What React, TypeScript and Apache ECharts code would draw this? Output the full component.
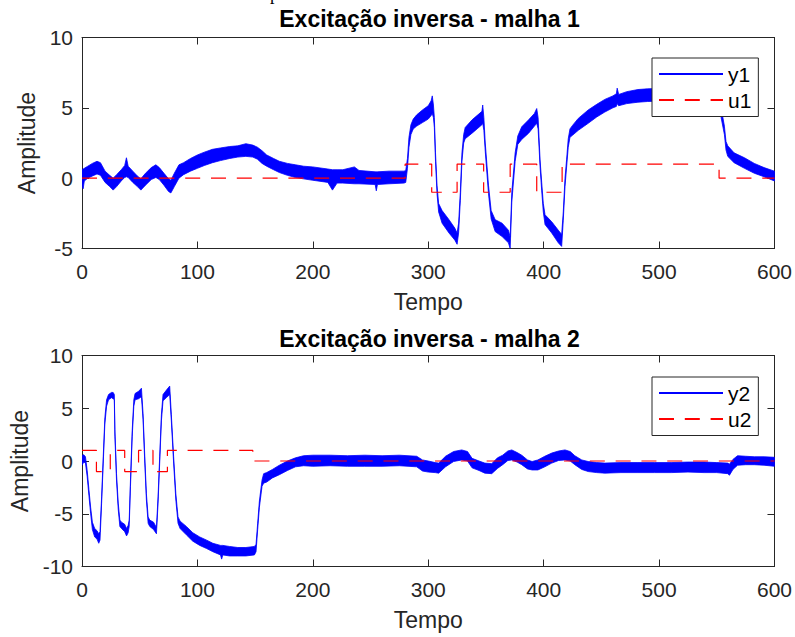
import React, { useEffect, useRef } from 'react';
import * as echarts from 'echarts';

// ---------- data ----------
const titles = ['Excitação inversa - malha 1', 'Excitação inversa - malha 2'];
const xName = 'Tempo';
const yName = 'Amplitude';
const xMin = 0;
const xMax = 600;
const xStep = 100;
const yMins = [-5, -10];
const yMaxs = [10, 10];
const yStep = 5;

// noisy output y1: [time, lower edge of noise band, upper edge of noise band]
const y1Band: number[][] = [
  [0, -0.5, 0.6], [1, -0.75, 0.65], [2, -0.2, 0.7], [5, 0.0, 0.85], [9, 0.15, 1.05], [13, 0.3, 1.2],
  [16, 0.2, 1.1], [20, -0.3, 0.5], [24, -0.6, 0.2], [27, -0.85, 0.0], [30, -0.6, 0.25], [34, -0.2, 0.6],
  [37, 0.05, 0.9], [38.5, 0.1, 1.45], [40, 0.05, 0.85], [44, -0.3, 0.5], [48, -0.6, 0.15], [51, -0.85, -0.05],
  [55, -0.5, 0.35], [60, -0.1, 0.75], [64, 0.05, 0.95], [67, -0.1, 0.75], [71, -0.5, 0.35], [75, -0.95, -0.05],
  [77, -1.05, -0.15], [80, -0.6, 0.35], [84, 0.0, 0.95], [88, 0.25, 1.1], [94, 0.5, 1.4], [100, 0.7, 1.65],
  [106, 0.9, 1.85], [113, 1.1, 2.05], [120, 1.25, 2.15], [128, 1.4, 2.25], [135, 1.5, 2.3], [142, 1.55, 2.45],
  [148, 1.5, 2.35], [152, 1.35, 2.2], [156, 1.05, 1.95], [160, 0.85, 1.65], [166, 0.6, 1.4], [171, 0.4, 1.2],
  [178, 0.2, 1.05], [185, 0.05, 0.95], [192, -0.05, 0.85], [200, -0.15, 0.8], [213, -0.3, 0.65], [217, -0.85, 0.6],
  [221, -0.35, 0.6], [226, -0.35, 0.6], [236, -0.4, 0.8], [240, -0.4, 0.55], [254, -0.45, 0.45], [255, -0.9, 0.45],
  [256, -0.45, 0.45], [266, -0.4, 0.5], [279, -0.35, 0.5], [280.5, -0.3, 0.55], [282, 0.7, 1.4], [283.3, 2.2, 2.9],
  [285, 3.1, 3.8], [287, 3.5, 4.2], [290, 3.7, 4.5], [295, 3.95, 4.85], [300, 4.2, 5.15], [302.5, 4.45, 5.5],
  [303.5, 4.6, 5.85], [304.5, 4.3, 5.2], [305.3, 3.6, 4.3], [306.3, 1.2, 1.8], [307.6, -1.1, -0.5], [309, -2.4, -1.8],
  [312, -3.2, -2.3], [318, -3.9, -2.95], [323, -4.4, -3.55], [325, -4.7, -3.9], [326.3, -3.9, -3.2], [327.8, -1.6, -1.0],
  [329.2, 1.2, 1.8], [330.7, 2.5, 3.1], [332, 2.8, 3.6], [338, 3.2, 4.15], [343, 3.55, 4.5], [346.5, 3.8, 4.75],
  [347.2, 3.9, 5.2], [348.2, 3.4, 4.3], [349.4, 1.9, 2.5], [352.2, -1.1, -0.5], [354.5, -2.9, -2.3], [358, -3.8, -2.95],
  [364, -4.15, -3.2], [369.5, -4.6, -3.7], [371, -5.0, -4.2], [372.4, -1.7, -1.0], [375.3, 1.2, 1.8], [377.6, 2.4, 3.0],
  [381, 2.75, 3.65], [387, 3.2, 4.15], [392, 3.7, 4.6], [394, 3.9, 4.95], [395.2, 3.5, 4.3], [396.9, 0.8, 1.3],
  [398.3, -0.9, -0.3], [399.7, -2.4, -1.8], [401.2, -3.3, -2.6], [407, -3.9, -3.1], [412.7, -4.6, -3.7], [415.6, -4.85, -4.0],
  [417, -3.0, -2.4], [418.5, -0.6, 0.0], [419.9, 0.8, 1.35], [421.3, 2.2, 2.8], [422.8, 2.9, 3.5], [425, 3.05, 3.75],
  [430, 3.4, 4.25], [438.6, 3.9, 4.85], [446, 4.35, 5.25], [453, 4.7, 5.6], [460, 5.0, 5.85], [463, 5.1, 6.0],
  [463.7, 5.3, 6.4], [465, 5.15, 5.95], [472, 5.3, 6.15], [481.7, 5.4, 6.3], [490, 5.45, 6.35], [510, 5.5, 6.4],
  [530, 5.55, 6.45], [550, 5.5, 6.35], [552.5, 5.0, 5.8], [554, 4.2, 4.9], [556.6, 3.1, 3.7], [558, 2.0, 2.6],
  [559.5, 1.55, 2.3], [565, 1.1, 1.8], [574, 0.7, 1.45], [582.5, 0.35, 1.05], [591, 0.1, 0.75], [600, -0.2, 0.5],
];

// step input u1: value holds from each time to the next
const u1Times = [0, 280, 303, 325, 348, 371, 394, 416, 552, 600];
const u1Values = [0, 1, -1, 1, -1, 1, -1, 1, 0, 0];

// noisy output y2: [time, lower edge, upper edge]
const y2Band: number[][] = [
  [0, -0.4, 0.5], [1.5, -0.1, 0.6], [3, -0.2, 0.4], [4.5, -1.5, -0.9], [6, -3.3, -2.7], [7.5, -5.0, -4.4],
  [9, -6.5, -5.8], [11, -7.2, -6.4], [13, -7.4, -6.6], [14.5, -7.8, -6.9], [15.6, -7.5, -6.7], [17, -4.0, -3.4],
  [18.4, -0.2, 0.4], [19.8, 3.5, 4.1], [21.3, 5.2, 5.8], [23, 5.8, 6.3], [25.5, 6.0, 6.5], [27, 5.9, 6.5],
  [28, 5.8, 6.3], [28.5, 2.3, 3.0], [29.9, -1.8, -1.2], [31.4, -4.6, -4.0], [32.8, -6.2, -5.6], [34.2, -6.4, -5.8],
  [37, -6.7, -6.0], [38.6, -7.1, -6.4], [40, -6.8, -6.1], [40.9, -6.2, -5.6], [42, -2.4, -1.8], [43.5, 2.3, 2.9],
  [44.9, 5.2, 5.8], [46, 5.8, 6.4], [49, 5.9, 6.6], [51.5, 6.1, 6.9], [52.9, 3.9, 4.5], [54.4, -0.2, 0.4],
  [55.8, -3.7, -3.1], [57.3, -5.9, -5.3], [58.7, -6.2, -5.6], [62, -6.5, -5.8], [64.5, -6.9, -6.3], [65.9, -4.0, -3.4],
  [67.3, -0.2, 0.4], [68.8, 3.8, 4.4], [70.2, 5.7, 6.3], [73, 6.0, 6.7], [76, 6.3, 7.1], [77.4, 3.8, 4.4],
  [79.4, -0.2, 0.4], [81.3, -3.7, -3.1], [83.2, -5.9, -5.3], [85, -6.4, -5.7], [90.4, -7.0, -6.2], [96, -7.6, -6.8],
  [102, -8.0, -7.2], [108, -8.3, -7.5], [113.4, -8.6, -7.8], [120, -8.9, -8.0], [121, -9.3, -8.0], [122, -8.9, -8.0],
  [127.8, -9.0, -8.1], [135, -9.0, -8.2], [142, -9.0, -8.2], [149.4, -8.9, -8.1], [150.8, -8.6, -7.9], [152.2, -6.5, -5.9],
  [153.7, -4.4, -3.8], [156, -2.4, -1.8], [157.4, -2.1, -1.2], [160, -2.0, -1.1], [165, -1.6, -0.8], [171, -1.3, -0.4],
  [178, -0.9, 0.0], [185, -0.55, 0.3], [192, -0.45, 0.5], [200, -0.5, 0.55], [215, -0.45, 0.55], [230, -0.5, 0.5],
  [245, -0.5, 0.55], [260, -0.5, 0.5], [275, -0.45, 0.55], [290, -0.55, 0.45], [295, -0.95, 0.1], [300, -1.05, 0.0],
  [306, -1.1, -0.15], [309, -1.15, -0.2], [315, -0.55, 0.45], [322, -0.05, 0.9], [329, 0.1, 1.05], [334, 0.0, 0.9],
  [338, -0.65, 0.25], [344, -0.9, 0.0], [349, -1.15, -0.2], [355, -1.2, -0.25], [360, -0.7, 0.3], [364.5, -0.35, 0.55],
  [369, 0.05, 0.95], [372.4, 0.1, 1.05], [377, -0.1, 0.8], [381, -0.35, 0.55], [386, -0.75, 0.1], [390, -0.85, -0.05],
  [395, -0.85, 0.1], [401, -0.55, 0.45], [407, -0.2, 0.75], [413, 0.05, 0.95], [418.5, 0.1, 1.05], [423, 0.0, 0.9],
  [427, -0.35, 0.5], [433, -0.8, 0.1], [438.6, -1.0, -0.05], [446, -1.1, -0.15], [453, -1.15, -0.2], [467, -1.1, -0.15],
  [481.7, -1.1, -0.15], [496, -1.1, -0.15], [510.5, -1.1, -0.15], [525, -1.05, -0.1], [539, -1.1, -0.1], [550, -1.1, -0.15],
  [559.5, -1.2, -0.2], [561, -1.35, -0.3], [564, -0.8, 0.15], [568, -0.4, 0.5], [575, -0.35, 0.45], [582.5, -0.35, 0.4],
  [591, -0.4, 0.4], [600, -0.5, 0.35],
];

const u2Times = [0, 12.5, 24.5, 37, 49, 61.5, 74, 148, 600];
const u2Values = [1, -1, 1, -1, 1, -1, 1, 0, 0];

const legendNames = [['y1', 'u1'], ['y2', 'u2']];

// ---------- styling ----------
const BLUE = '#0000ff';
const RED = '#ff0000';
const AXIS = '#262626';
const FONT = '"Liberation Sans", Arial, Helvetica, sans-serif';
const GRID_LEFT = 82;
const GRID_WIDTH = 695;
const GRID_HEIGHT = 211;
const GRID_TOPS = [37.5, 355.5];
const TITLE_TOPS = [7, 327];
const LEGEND_TOPS = [58, 377];

const lineStyle = { color: AXIS, width: 1 };

function xAxesFor(i: number) {
  const common = {
    gridIndex: i,
    type: 'value',
    min: xMin,
    max: xMax,
    interval: xStep,
    splitLine: { show: false },
    axisLine: { show: true, onZero: false, lineStyle },
    axisTick: { show: true, inside: true, length: 7, lineStyle },
  };
  return [
    {
      ...common,
      position: 'bottom',
      axisLabel: { show: true, fontSize: 21, color: AXIS, margin: 12, fontFamily: FONT },
      name: xName,
      nameLocation: 'middle',
      nameGap: 42,
      nameTextStyle: { fontSize: 23, color: AXIS, fontFamily: FONT },
    },
    { ...common, position: 'top', axisLabel: { show: false } },
  ];
}

function yAxesFor(i: number) {
  const common = {
    gridIndex: i,
    type: 'value',
    min: yMins[i],
    max: yMaxs[i],
    interval: yStep,
    splitLine: { show: false },
    axisLine: { show: true, onZero: false, lineStyle },
    axisTick: { show: true, inside: true, length: 7, lineStyle },
  };
  return [
    {
      ...common,
      position: 'left',
      axisLabel: { show: true, fontSize: 21, color: AXIS, margin: 9, fontFamily: FONT },
      name: yName,
      nameLocation: 'middle',
      nameRotate: 90,
      nameGap: 44,
      nameTextStyle: { fontSize: 23, color: AXIS, fontFamily: FONT },
    },
    { ...common, position: 'right', axisLabel: { show: false } },
  ];
}

function bandSeries(name: string, band: number[][], i: number) {
  return {
    type: 'custom',
    name,
    xAxisIndex: i * 2,
    yAxisIndex: i * 2,
    clip: true,
    silent: true,
    z: 2,
    data: [[band[0][0], band[0][1]]],
    renderItem: (_params: any, api: any) => {
      const upper = band.map((r) => api.coord([r[0], r[2]]));
      const lower = band.map((r) => api.coord([r[0], r[1]])).reverse();
      return {
        type: 'polygon',
        shape: { points: upper.concat(lower) },
        style: { fill: BLUE, stroke: BLUE, lineWidth: 0.8 },
      };
    },
  };
}

function stepSeries(name: string, times: number[], values: number[], i: number) {
  return {
    type: 'line',
    name,
    xAxisIndex: i * 2,
    yAxisIndex: i * 2,
    step: 'end',
    symbol: 'none',
    z: 3,
    data: times.map((t, k) => [t, values[k]]),
    lineStyle: { color: RED, width: 1.2, type: [15, 10.8] },
    itemStyle: { color: RED },
  };
}

function legendLine(name: string, i: number) {
  return {
    type: 'line',
    name,
    xAxisIndex: i * 2,
    yAxisIndex: i * 2,
    symbol: 'none',
    data: [],
    lineStyle: { color: BLUE, width: 1 },
    itemStyle: { color: BLUE },
  };
}

export default function App() {
  const ref = useRef<HTMLDivElement>(null);

  useEffect(() => {
    if (!ref.current) return;
    const chart = echarts.init(ref.current, undefined, { renderer: 'svg' });
    const option: any = {
      animation: false,
      backgroundColor: '#ffffff',
      textStyle: { fontFamily: FONT },
      title: titles.map((t, i) => ({
        text: t,
        left: GRID_LEFT + GRID_WIDTH / 2,
        top: TITLE_TOPS[i],
        textAlign: 'center',
        padding: 0,
        textStyle: { fontSize: 23, fontWeight: 'bold', color: '#000', fontFamily: FONT },
      })),
      grid: GRID_TOPS.map((top) => ({
        left: GRID_LEFT,
        top,
        width: GRID_WIDTH,
        height: GRID_HEIGHT,
        containLabel: false,
      })),
      xAxis: [...xAxesFor(0), ...xAxesFor(1)],
      yAxis: [...yAxesFor(0), ...yAxesFor(1)],
      legend: legendNames.map((names, i) => ({
        data: names,
        orient: 'vertical',
        left: 652,
        top: LEGEND_TOPS[i],
        itemWidth: 64,
        itemHeight: 14,
        itemGap: 5,
        padding: [5.5, 7, 6, 6],
        backgroundColor: '#ffffff',
        borderColor: AXIS,
        borderWidth: 1,
        borderRadius: 0,
        selectedMode: false,
        itemStyle: { opacity: 0 },
        textStyle: { fontSize: 21, color: '#000', fontFamily: FONT },
      })),
      graphic: [
        {
          type: 'text',
          x: 270,
          y: 3,
          silent: true,
          style: { text: 'p', fontSize: 18, fontFamily: '"Liberation Serif", serif', fill: '#000', verticalAlign: 'bottom' },
        },
      ],
      series: [
        bandSeries('y1 band', y1Band, 0),
        legendLine('y1', 0),
        stepSeries('u1', u1Times, u1Values, 0),
        bandSeries('y2 band', y2Band, 1),
        legendLine('y2', 1),
        stepSeries('u2', u2Times, u2Values, 1),
      ],
    };
    chart.setOption(option);
    return () => chart.dispose();
  }, []);

  return (
    <div
      ref={ref}
      style={{ position: 'absolute', left: 0, top: 0, width: 795, height: 637, background: '#fff' }}
    />
  );
}
